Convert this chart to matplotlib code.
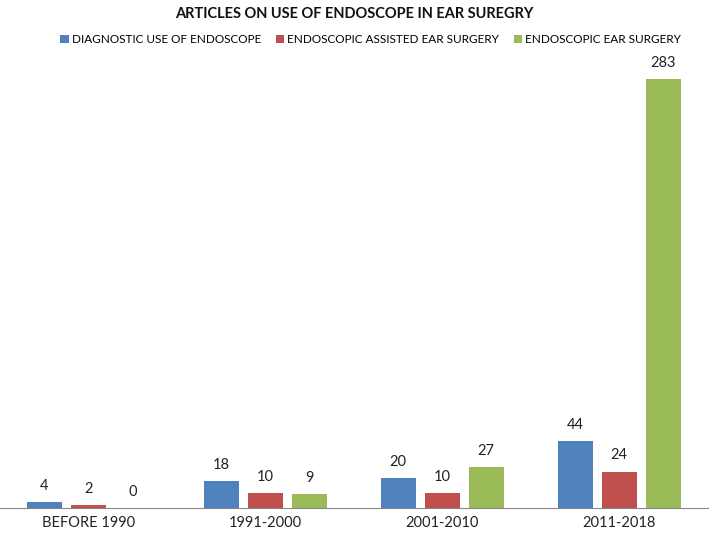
import numpy as np
import matplotlib.pyplot as plt

plt.rcParams['font.family'] = ['Lato', 'DejaVu Sans']

periods = ['BEFORE 1990', '1991-2000', '2001-2010', '2011-2018']
diagnostic = [4, 18, 20, 44]
assisted = [2, 10, 10, 24]
endoscopic = [0, 9, 27, 283]
series_names = ['DIAGNOSTIC USE OF ENDOSCOPE', 'ENDOSCOPIC ASSISTED EAR SURGERY', 'ENDOSCOPIC EAR SURGERY']
colors = ['#4F81BD', '#C0504D', '#9BBB59']

fig = plt.figure(figsize=(7.09, 5.33), dpi=100)
ax = fig.add_axes([0.0, 0.047, 0.998, 0.853])

x = np.arange(len(periods))
width = 0.198
step = 0.249
for i, (vals, name, c) in enumerate(zip([diagnostic, assisted, endoscopic], series_names, colors)):
    pos = x + (i - 1) * step
    bars = ax.bar(pos, vals, width, color=c, label=name)
    for px, v in zip(pos, vals):
        ax.text(px, v + 6, str(v), ha='center', va='bottom', fontsize=10.5, color='#222222')

ax.set_xlim(-0.5, 3.5)
ax.set_ylim(0, 300)
ax.set_xticks(x)
ax.set_xticklabels(periods, fontsize=10.5, color='#222222')
ax.tick_params(axis='x', length=0, pad=6)
ax.set_yticks([])
for s in ['top', 'right', 'left']:
    ax.spines[s].set_visible(False)
ax.spines['bottom'].set_color('#868686')

fig.text(0.5, 0.973, 'ARTICLES ON USE OF ENDOSCOPE IN EAR SUREGRY', ha='center', va='center',
         fontsize=10.5, fontweight='bold', color='#111111')
fig.legend(loc='center', bbox_to_anchor=(0.523, 0.925), ncol=3, frameon=False, fontsize=8.5,
           handlelength=0.7, handleheight=0.7, handletextpad=0.3, columnspacing=1.2)

fig.savefig('out.png', dpi=100)
